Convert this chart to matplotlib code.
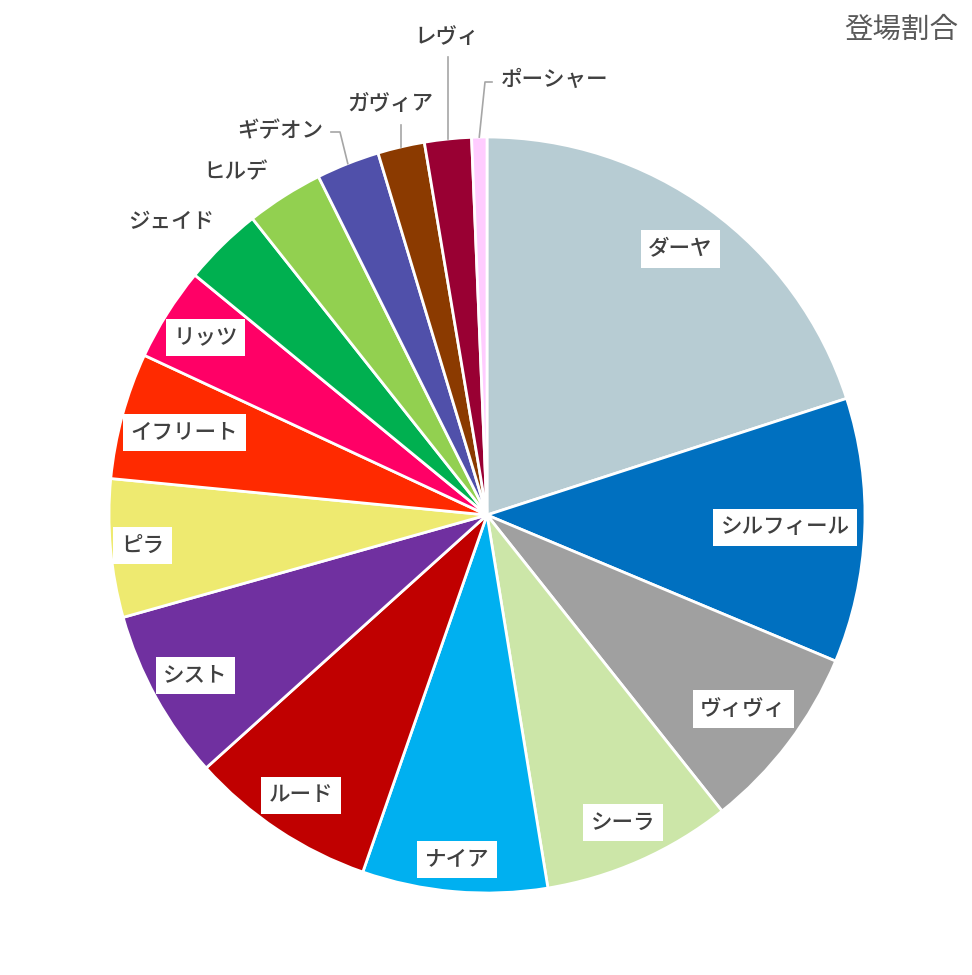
import numpy as np
import matplotlib
matplotlib.use("Agg")
import matplotlib.pyplot as plt

plt.rcParams['font.family'] = ['Noto Sans CJK JP', 'DejaVu Sans']

names = ["ダーヤ", "シルフィール", "ヴィヴィ", "シーラ", "ナイア", "ルード", "シスト", "ピラ",
         "イフリート", "リッツ", "ジェイド", "ヒルデ", "ギデオン", "ガヴィア", "レヴィ", "ポーシャー"]
values = [20.0, 11.3, 8.0, 8.1, 7.9, 8.0, 7.3, 5.9, 5.4, 4.0, 3.4, 3.3, 2.7, 2.0, 2.0, 0.65]
colors = ["#b7ccd3", "#0070c0", "#a0a0a0", "#cce6a8", "#00b0f0", "#c00000", "#7030a0", "#eeea70",
          "#ff2a00", "#ff0066", "#00b050", "#92d050", "#5050aa", "#8b3a00", "#990033", "#ffccff"]
title = "登場割合"

W, H = 972, 975
fig = plt.figure(figsize=(W / 100, H / 100), dpi=100)
cx, cy, R = 487, 515, 378
ax = fig.add_axes([(cx - R) / W, (H - cy - R) / H, 2 * R / W, 2 * R / H])
ax.pie(values, colors=colors, startangle=90, counterclock=False, radius=1,
       wedgeprops=dict(edgecolor="white", linewidth=2))
ax.set_xlim(-1, 1)
ax.set_ylim(-1, 1)
ax.set_aspect('auto')
ax.axis('off')

total = sum(values)
cum = np.cumsum([0] + values[:-1]) / total
mids = [(c + v / total / 2) * 360 for c, v in zip(cum, values)]  # degrees clockwise from top

def pt(angle_deg, r):
    a = np.deg2rad(angle_deg)
    return r * np.sin(a), r * np.cos(a)

txtc = "#404040"
fs = 15.5
fw = 'medium'
inside_r = {0: 0.87, 1: 0.79, 2: 0.85, 3: 0.89, 4: 0.915, 5: 0.89, 6: 0.88, 7: 0.915, 8: 0.83, 9: 0.88}
for i, r in inside_r.items():
    x, y = pt(mids[i], r)
    ax.text(x, y, names[i], ha='center', va='center', fontsize=fs, color=txtc, fontweight=fw,
            bbox=dict(boxstyle='square,pad=0.35', fc='white', ec='none'))

def px(xp, yp):
    return (xp - cx) / R, (cy - yp) / R

# outside labels without leader lines
for i, (xp, yp) in {10: (171, 222), 11: (236, 172)}.items():
    x, y = px(xp, yp)
    ax.text(x, y, names[i], ha='center', va='center', fontsize=fs, color=txtc, fontweight=fw)

lc = "#a6a6a6"
# ギデオン
i = 12
ex, ey = pt(mids[i], 1.0)
p1 = px(340, 132); p2 = px(331, 132)
ax.plot([ex, p1[0], p2[0]], [ey, p1[1], p2[1]], color=lc, lw=1.2, clip_on=False)
x, y = px(323, 131)
ax.text(x, y, names[i], ha='right', va='center', fontsize=fs, color=txtc, fontweight=fw)
# ガヴィア
i = 13
ex, ey = pt(mids[i], 1.0)
p1 = px(0, 125)
ax.plot([ex, ex], [ey, p1[1]], color=lc, lw=1.2, clip_on=False)
x, y = px(390, 104)
ax.text(x, y, names[i], ha='center', va='center', fontsize=fs, color=txtc, fontweight=fw)
# レヴィ
i = 14
ex, ey = pt(mids[i], 1.0)
p1 = px(0, 57)
ax.plot([ex, ex], [ey, p1[1]], color=lc, lw=1.2, clip_on=False)
x, y = px(447, 37)
ax.text(x, y, names[i], ha='center', va='center', fontsize=fs, color=txtc, fontweight=fw)
# ポーシャー
i = 15
ex, ey = pt(mids[i], 1.0)
p1 = px(485, 82); p2 = px(492, 82)
ax.plot([ex, p1[0], p2[0]], [ey, p1[1], p2[1]], color=lc, lw=1.2, clip_on=False)
x, y = px(501, 80)
ax.text(x, y, names[i], ha='left', va='center', fontsize=fs, color=txtc, fontweight=fw)

fig.text(958 / W, 1 - 30 / H, title, ha='right', va='center', fontsize=20.5, color="#595959")

fig.savefig("out.png", dpi=100, facecolor="white")
